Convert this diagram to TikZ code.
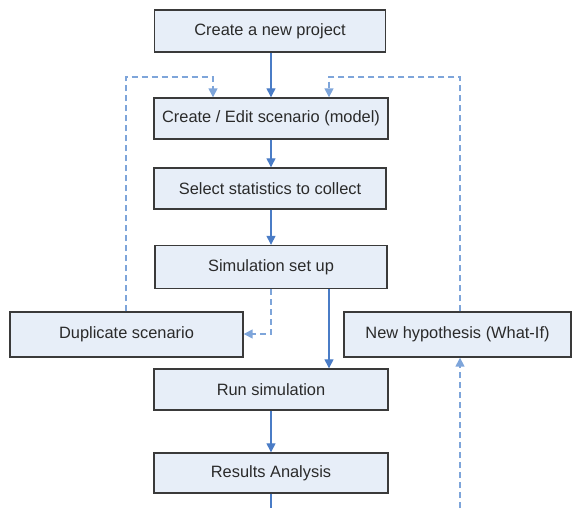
\documentclass[tikz,border=0pt]{standalone}
\usepackage{fontspec}
\setmainfont{Liberation Sans}
\usetikzlibrary{arrows.meta}
\definecolor{boxfill}{HTML}{E7EEF8}
\definecolor{boxline}{HTML}{3A3A3A}
\definecolor{solidblue}{HTML}{4A7CC6}
\definecolor{dashblue}{HTML}{7EA5DA}
\definecolor{txt}{HTML}{2A2A2A}
\begin{document}
\begin{tikzpicture}[x=1pt,y=-1pt,
  stepbox/.style={draw=boxline, fill=boxfill, line width=1.4pt, rectangle, inner sep=0pt,
    text=txt, font=\fontsize{16.4}{19}\selectfont},
  flow/.style={draw=solidblue, line width=1.3pt, -{Triangle[length=9pt,width=9pt]}},
  plainflow/.style={draw=solidblue, line width=1.3pt},
  back/.style={draw=dashblue, line width=1.5pt, dash pattern=on 6pt off 4pt, -{Triangle[length=9pt,width=9pt]}},
  backplain/.style={draw=dashblue, line width=1.5pt, dash pattern=on 6pt off 4pt}]
\useasboundingbox (0,0) rectangle (572,508);
\node[stepbox, minimum width=231pt, minimum height=42pt] (proj) at (270,31) {Create a new project};
\node[stepbox, minimum width=234pt, minimum height=41pt] (edit) at (271,118.5) {Create / Edit scenario (model)};
\node[stepbox, minimum width=232pt, minimum height=41pt] (stats) at (270,188.5) {Select statistics to collect};
\node[stepbox, minimum width=232pt, minimum height=43pt] (setup) at (271,267) {Simulation set up};
\node[stepbox, minimum width=233pt, minimum height=45pt] (dup) at (126.5,334.5) {Duplicate scenario};
\node[stepbox, minimum width=227pt, minimum height=45pt] (hyp) at (457.5,334.5) {New hypothesis (What-If)};
\node[stepbox, minimum width=234pt, minimum height=41pt] (run) at (271,389.5) {Run simulation};
\node[stepbox, minimum width=234pt, minimum height=40pt] (res) at (271,473) {Results Analysis};
\coordinate (xr) at (329,0);
\coordinate (xl) at (213,0);
\coordinate (xh) at (460,0);
\coordinate (xd) at (126,0);
\coordinate (topy) at (0,77);
\coordinate (resend) at (271,508);
\coordinate (hypstart) at (460,508);
\coordinate (dupy) at (0,334);
\draw[flow] (proj.south -| edit.north) -- (edit.north);
\draw[flow] (edit.south) -- (stats.north -| edit.south);
\draw[flow] (stats.south -| setup.north) -- (setup.north);
\draw[flow] (setup.south -| xr) -- (run.north -| xr);
\draw[flow] (run.south) -- (res.north);
\draw[plainflow] (res.south) -- (resend);
\draw[back] (hypstart) -- (hyp.south -| xh);
\draw[back] (hyp.north -| xh) -- (xh |- topy) -- (xr |- topy) -- (edit.north -| xr);
\draw[back] (dup.north -| xd) -- (xd |- topy) -- (xl |- topy) -- (edit.north -| xl);
\draw[back] (setup.south) -- (setup.south |- dupy) -- (dup.east |- dupy);
\end{tikzpicture}
\end{document}
